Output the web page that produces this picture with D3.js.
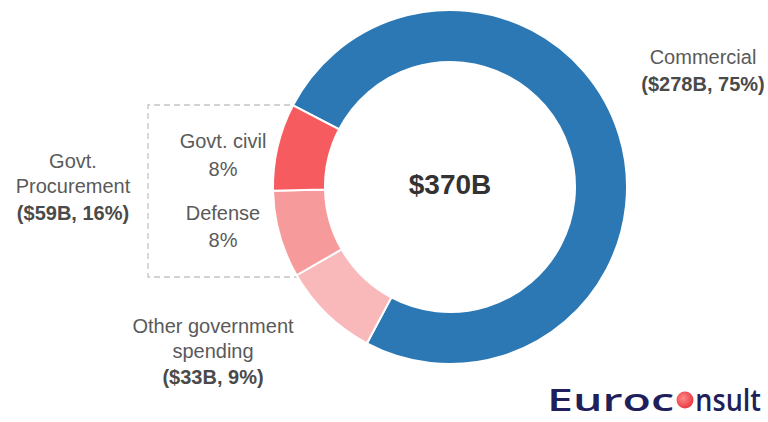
<!DOCTYPE html>
<html>
<head>
<meta charset="utf-8">
<script src="https://cdn.jsdelivr.net/npm/d3@7"></script>
<style>
  html, body { margin: 0; padding: 0; background: #ffffff; }
  svg { display: block; }
  text { font-family: "Liberation Sans", Arial, sans-serif; }
  .logo text { font-family: "Open Sans", "Liberation Sans", sans-serif; font-weight: 600; }
</style>
</head>
<body>
<svg id="chart" width="768" height="422"></svg>
<script>
// Space economy spending breakdown, in $B
const segments = ["Commercial", "Other government spending", "Defense", "Govt. civil"];
const values = [278, 33, 29.5, 29.5];
const total = 370;
const segmentColors = ["#2b78b4", "#f9b8ba", "#f79a9c", "#f65b5f"];

const svg = d3.select("#chart");
const cx = 450, cy = 187, outerR = 177, innerR = 125;
const startDeg = -62.5;

// dashed bracket grouping the government procurement slices
const box = svg.append("g");
box.append("path")
  .attr("d", "M310,105 H148 V277 H310")
  .attr("fill", "none")
  .attr("stroke", "#c4c4c4")
  .attr("stroke-width", 1.3)
  .attr("stroke-dasharray", "6,4");

const pie = d3.pie().sort(null)
  .startAngle(startDeg * Math.PI / 180)
  .endAngle(startDeg * Math.PI / 180 + 2 * Math.PI);
const arc = d3.arc().innerRadius(innerR).outerRadius(outerR);

const ring = svg.append("g").attr("transform", `translate(${cx},${cy})`);
ring.selectAll("path")
  .data(pie(values))
  .join("path")
  .attr("d", arc)
  .attr("fill", (d, i) => segmentColors[i])
  .attr("stroke", "#ffffff")
  .attr("stroke-width", 2);

// total in the middle
ring.append("text")
  .attr("x", 0).attr("y", 7)
  .attr("text-anchor", "middle")
  .attr("font-size", 28)
  .attr("font-weight", "bold")
  .attr("fill", "#333333")
  .text("$" + total + "B");

const pct = v => Math.round(v / total * 100) + "%";

function block(x, lines) {
  const g = svg.append("g");
  lines.forEach(l => {
    g.append("text")
      .attr("x", x).attr("y", l.y)
      .attr("text-anchor", "middle")
      .attr("font-size", 20)
      .attr("font-weight", l.bold ? "bold" : "normal")
      .attr("fill", l.bold ? "#4a4a4a" : "#5a5a5a")
      .text(l.t);
  });
}

block(703, [
  { t: segments[0], y: 64 },
  { t: `($${values[0]}B, ${pct(values[0])})`, y: 91, bold: true }
]);

const govTotal = values[2] + values[3];
block(73, [
  { t: "Govt.", y: 168 },
  { t: "Procurement", y: 193 },
  { t: `($${govTotal}B, ${pct(govTotal)})`, y: 220, bold: true }
]);

block(223, [
  { t: segments[3], y: 148 },
  { t: pct(values[3]), y: 176 },
  { t: segments[2], y: 220 },
  { t: pct(values[2]), y: 247 }
]);

block(213, [
  { t: "Other government", y: 333 },
  { t: "spending", y: 358 },
  { t: `($${values[1]}B, ${pct(values[1])})`, y: 384, bold: true }
]);

// Euroconsult wordmark
const logo = svg.append("g").attr("class", "logo");
const navy = "#1e1f5c";
logo.append("text")
  .attr("transform", "translate(547,411) scale(1,1.15)")
  .attr("font-size", 27)
  .attr("fill", navy)
  .attr("textLength", 127)
  .attr("lengthAdjust", "spacingAndGlyphs")
  .text("Euroc");
logo.append("text")
  .attr("transform", "translate(761,411) scale(1,1.15)")
  .attr("text-anchor", "end")
  .attr("font-size", 27)
  .attr("fill", navy)
  .text("nsult");
const defs = svg.append("defs");
const grad = defs.append("radialGradient").attr("id", "orb")
  .attr("cx", "40%").attr("cy", "40%").attr("r", "65%");
grad.append("stop").attr("offset", "0%").attr("stop-color", "#ff8a8a");
grad.append("stop").attr("offset", "100%").attr("stop-color", "#e8333b");
logo.append("circle")
  .attr("cx", 685).attr("cy", 400).attr("r", 8.5)
  .attr("fill", "url(#orb)");
</script>
</body>
</html>
